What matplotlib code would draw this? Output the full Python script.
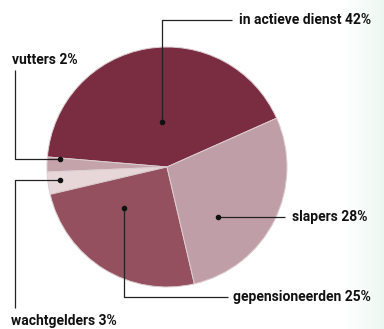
import matplotlib.pyplot as plt
import numpy as np

# shares of the members per category (percent)
categories = ['in actieve dienst', 'vutters', 'wachtgelders', 'gepensioneerden', 'slapers']
shares = [42, 2, 3, 25, 28]
colors = ['#7a2c41', '#c4a3aa', '#e7d7d8', '#94505f', '#bf9ea7']

# label placement in pixel coordinates (y measured from the top)
# dot -> elbow -> end of the leader line, then text position
leaders = {
    'in actieve dienst': [(162, 122), (162, 20), (232, 20)],
    'vutters': [(60, 159), (15, 159), (15, 70)],
    'wachtgelders': [(60, 180), (15, 180), (15, 308)],
    'gepensioneerden': [(124, 208), (124, 297), (228, 297)],
    'slapers': [(218, 217), (285, 217)],
}
text_pos = {
    'in actieve dienst': (239, 20),
    'vutters': (12, 60),
    'wachtgelders': (11, 321),
    'gepensioneerden': (233, 297),
    'slapers': (292, 217),
}

W, H = 384, 329
fig = plt.figure(figsize=(W / 100, H / 100), dpi=100)
fig.patch.set_facecolor('white')

# faint paper tint along the right side
bg = fig.add_axes([0, 0, 1, 1])
x = np.linspace(0, 1, 200)
tint = np.clip((x - 0.9) / 0.1, 0, 1)
img = np.ones((2, 200, 3))
img[..., 0] -= 0.07 * tint
img[..., 1] -= 0.03 * tint
img[..., 2] -= 0.05 * tint
bg.imshow(img, aspect='auto', extent=[0, 1, 0, 1])
bg.axis('off')

ax = fig.add_axes([0, 0, 1, 1])
ax.pie(shares, colors=colors, startangle=24, counterclock=True,
       center=(167, H - 167), radius=120, frame=True,
       wedgeprops=dict(edgecolor='#dccdd0', linewidth=0.7))
ax.set_xlim(0, W)
ax.set_ylim(0, H)
ax.set_aspect('equal')
ax.axis('off')

font = ['Roboto', 'DejaVu Sans']
for cat, val in zip(categories, shares):
    pts = leaders[cat]
    xs = [p[0] for p in pts]
    ys = [H - p[1] for p in pts]
    ax.plot(xs, ys, color='#222222', linewidth=0.9, solid_capstyle='butt')
    ax.plot(xs[0], ys[0], 'o', color='#111111', markersize=3)
    tx, ty = text_pos[cat]
    ax.text(tx, H - ty, f'{cat} {val}%', family=font, fontsize=10,
            fontweight='bold', fontstretch='condensed', color='#111111',
            ha='left', va='center')

fig.savefig('out.png', dpi=100)
